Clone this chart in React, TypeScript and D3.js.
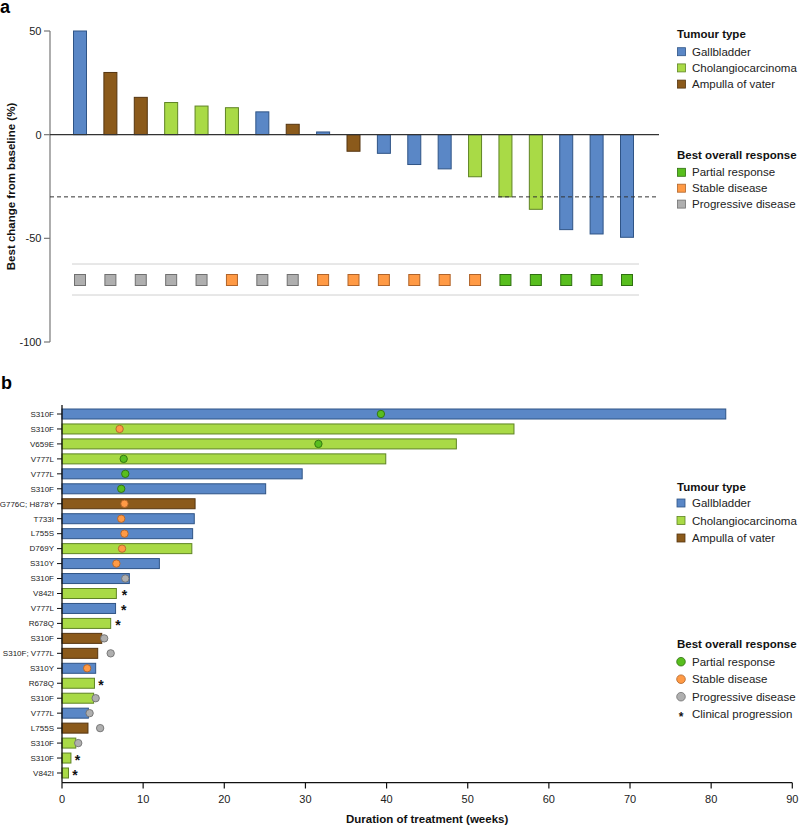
import React from "react";
import * as d3 from "d3";

// ---------- Panel a: waterfall ----------
const wfChange = [50, 30, 18, 15.5, 13.8, 13, 11, 5, 1.3, -8, -9, -14.4, -16.5, -20.3, -30, -36, -45.8, -47.9, -49.5];
const wfTumour = ["G", "A", "A", "C", "C", "C", "G", "A", "G", "A", "G", "G", "G", "C", "C", "C", "G", "G", "G"];
const wfResponse = ["PD", "PD", "PD", "PD", "PD", "SD", "PD", "PD", "SD", "SD", "SD", "SD", "SD", "SD", "PR", "PR", "PR", "PR", "PR"];
const wfTicks = [50, 0, -50, -100];
const wfThreshold = -30;

// ---------- Panel b: swimmer ----------
const swLabels = ["S310F", "S310F", "V659E", "V777L", "V777L", "S310F", "G776C; H878Y", "T733I", "L755S", "D769Y", "S310Y", "S310F", "V842I", "V777L", "R678Q", "S310F", "S310F; V777L", "S310Y", "R678Q", "S310F", "V777L", "L755S", "S310F", "S310F", "V842I"];
const swDuration = [81.8, 55.7, 48.6, 39.9, 29.6, 25.1, 16.4, 16.3, 16.1, 16.0, 12.0, 8.3, 6.7, 6.6, 6.0, 4.9, 4.4, 4.15, 4.0, 3.9, 3.25, 3.2, 1.7, 1.1, 0.8];
const swTumour = ["G", "C", "C", "C", "G", "G", "A", "G", "G", "C", "G", "G", "C", "G", "C", "A", "A", "G", "C", "C", "G", "A", "C", "C", "C"];
const swResponse = ["PR", "SD", "PR", "PR", "PR", "PR", "SD", "SD", "SD", "SD", "SD", "PD", "CP", "CP", "CP", "PD", "PD", "SD", "CP", "PD", "PD", "PD", "PD", "CP", "CP"];
const swResponseWeek = [39.3, 7.1, 31.6, 7.6, 7.8, 7.3, 7.7, 7.3, 7.7, 7.4, 6.7, 7.8, 7.7, 7.6, 6.9, 5.2, 6.0, 3.1, 4.8, 4.15, 3.4, 4.7, 2.0, 1.9, 1.6];
const swTicks = [0, 10, 20, 30, 40, 50, 60, 70, 80, 90];

const tumourKeys = ["G", "C", "A"];
const tumourNames = ["Gallbladder", "Cholangiocarcinoma", "Ampulla of vater"];
const tumourFill: Record<string, string> = { G: "#5A87C6", C: "#A9DA46", A: "#8B5A1B" };
const tumourStroke: Record<string, string> = { G: "#2F5486", C: "#5F8424", A: "#553510" };

const respKeys = ["PR", "SD", "PD"];
const respNames = ["Partial response", "Stable disease", "Progressive disease"];
const respFill: Record<string, string> = { PR: "#58BE1E", SD: "#FF9A45", PD: "#AFAFAF" };
const respStroke: Record<string, string> = { PR: "#2F7010", SD: "#B0642A", PD: "#707070" };

const FONT = "'Liberation Sans', Arial, Helvetica, sans-serif";

export default function App() {
  // panel a scales
  const ya = d3.scaleLinear().domain([-100, 50]).range([342, 31]);
  const xa = d3.scalePoint<number>().domain(d3.range(wfChange.length)).range([80, 627]);
  const barW = 13;
  const sqY = 280;
  const sqS = 11;

  // panel b scales
  const xb = d3.scaleLinear().domain([0, 90]).range([62, 792.3]);
  const yb = d3.scalePoint<number>().domain(d3.range(swLabels.length)).range([414, 773]);
  const rowH = 10;

  return (
    <svg width={799} height={826} style={{ position: "absolute", left: 0, top: 0, fontFamily: FONT }}>
      <rect width={799} height={826} fill="#fff" />
      {/* panel labels */}
      <text x={0} y={13} fontSize={18} fontWeight="bold" fill="#000">a</text>
      <text x={1} y={389} fontSize={18} fontWeight="bold" fill="#000">b</text>

      {/* ---------- Panel a ---------- */}
      <g>
        {/* y axis */}
        <line x1={50} x2={50} y1={ya(50)} y2={ya(-100)} stroke="#777" strokeWidth={1.2} />
        {wfTicks.map((t) => (
          <g key={t}>
            <line x1={44} x2={50} y1={ya(t)} y2={ya(t)} stroke="#777" strokeWidth={1.2} />
            <text x={41.5} y={ya(t)} dy="0.35em" textAnchor="end" fontSize={11} fill="#222">{t}</text>
          </g>
        ))}
        <text
          transform={`translate(14.5, ${(ya(50) + ya(-100)) / 2}) rotate(-90)`}
          textAnchor="middle"
          fontSize={11.5}
          fontWeight="bold"
          fill="#111"
        >
          Best change from baseline (%)
        </text>

        {/* bars */}
        {wfChange.map((v, i) => {
          const y0 = ya(0);
          const y1 = ya(v);
          return (
            <rect
              key={i}
              x={(xa(i) as number) - barW / 2}
              y={Math.min(y0, y1)}
              width={barW}
              height={Math.abs(y1 - y0)}
              fill={tumourFill[wfTumour[i]]}
              stroke={tumourStroke[wfTumour[i]]}
              strokeWidth={1}
            />
          );
        })}
        {/* zero and threshold lines */}
        <line x1={50} x2={659} y1={ya(0)} y2={ya(0)} stroke="#333" strokeWidth={1.1} />
        <line x1={50} x2={659} y1={ya(wfThreshold)} y2={ya(wfThreshold)} stroke="#333" strokeWidth={1} strokeDasharray="4,3" />

        {/* response strip */}
        <line x1={72} x2={639} y1={264} y2={264} stroke="#d0d0d0" strokeWidth={1} />
        <line x1={72} x2={639} y1={295} y2={295} stroke="#d0d0d0" strokeWidth={1} />
        {wfResponse.map((r, i) => (
          <rect
            key={i}
            x={(xa(i) as number) - sqS / 2}
            y={sqY - sqS / 2}
            width={sqS}
            height={sqS}
            fill={respFill[r]}
            stroke={respStroke[r]}
            strokeWidth={1}
          />
        ))}

        {/* legends */}
        <text x={677} y={34.3} dy="0.35em" fontSize={11.5} fontWeight="bold" fill="#111">Tumour type</text>
        {tumourKeys.map((k, i) => {
          const cy = 51.7 + i * 16.2;
          return (
            <g key={k}>
              <rect x={677.5} y={cy - 4} width={8} height={8} fill={tumourFill[k]} stroke={tumourStroke[k]} strokeWidth={0.8} />
              <text x={692} y={cy} dy="0.35em" fontSize={11.5} fill="#222">{tumourNames[i]}</text>
            </g>
          );
        })}
        <text x={677} y={155.3} dy="0.35em" fontSize={11.5} fontWeight="bold" fill="#111">Best overall response</text>
        {respKeys.map((k, i) => {
          const cy = 172.3 + i * 15.9;
          return (
            <g key={k}>
              <rect x={677.5} y={cy - 4} width={8} height={8} fill={respFill[k]} stroke={respStroke[k]} strokeWidth={0.8} />
              <text x={692} y={cy} dy="0.35em" fontSize={11.5} fill="#222">{respNames[i]}</text>
            </g>
          );
        })}
      </g>

      {/* ---------- Panel b ---------- */}
      <g>
        {/* bars */}
        {swDuration.map((d, i) => (
          <rect
            key={i}
            x={xb(0)}
            y={(yb(i) as number) - rowH / 2}
            width={xb(d) - xb(0)}
            height={rowH}
            fill={tumourFill[swTumour[i]]}
            stroke={tumourStroke[swTumour[i]]}
            strokeWidth={1}
          />
        ))}
        {/* response markers */}
        {swResponse.map((r, i) => {
          const cx = xb(swResponseWeek[i]);
          const cy = yb(i) as number;
          if (r === "CP") {
            return (
              <text key={i} x={cx} y={cy + 6.8} textAnchor="middle" fontSize={14} fontWeight="bold" fill="#111">*</text>
            );
          }
          return <circle key={i} cx={cx} cy={cy} r={3.7} fill={respFill[r]} stroke={respStroke[r]} strokeWidth={0.9} />;
        })}

        {/* y axis */}
        <line x1={62} x2={62} y1={405} y2={782.7} stroke="#111" strokeWidth={1.3} />
        {swLabels.map((l, i) => (
          <g key={i}>
            <line x1={57} x2={62} y1={yb(i) as number} y2={yb(i) as number} stroke="#111" strokeWidth={1} />
            <text x={54} y={yb(i) as number} dy="0.35em" textAnchor="end" fontSize={8} fill="#222">{l}</text>
          </g>
        ))}

        {/* x axis */}
        <line x1={xb(0)} x2={xb(90)} y1={782.7} y2={782.7} stroke="#111" strokeWidth={1.3} />
        {swTicks.map((t) => (
          <g key={t}>
            <line x1={xb(t)} x2={xb(t)} y1={782.7} y2={788.5} stroke="#111" strokeWidth={1.2} />
            <text x={xb(t)} y={798.7} dy="0.35em" textAnchor="middle" fontSize={11} fill="#222">{t}</text>
          </g>
        ))}
        <text x={(xb(0) + xb(90)) / 2} y={823.3} textAnchor="middle" fontSize={11.5} fontWeight="bold" fill="#111">
          Duration of treatment (weeks)
        </text>

        {/* legends */}
        <text x={677} y={486.7} dy="0.35em" fontSize={11.5} fontWeight="bold" fill="#111">Tumour type</text>
        {tumourKeys.map((k, i) => {
          const cy = 503 + i * 17.5;
          return (
            <g key={k}>
              <rect x={677} y={cy - 4} width={8} height={8} fill={tumourFill[k]} stroke={tumourStroke[k]} strokeWidth={0.8} />
              <text x={692} y={cy} dy="0.35em" fontSize={11.5} fill="#222">{tumourNames[i]}</text>
            </g>
          );
        })}
        <text x={677} y={644} dy="0.35em" fontSize={11.5} fontWeight="bold" fill="#111">Best overall response</text>
        {respKeys.map((k, i) => {
          const cy = 661.7 + i * 17.5;
          return (
            <g key={k}>
              <circle cx={681} cy={cy} r={4.3} fill={respFill[k]} stroke={respStroke[k]} strokeWidth={0.8} />
              <text x={692} y={cy} dy="0.35em" fontSize={11.5} fill="#222">{respNames[i]}</text>
            </g>
          );
        })}
        <text x={681} y={714.3 + 6.5} textAnchor="middle" fontSize={12} fontWeight="bold" fill="#111">*</text>
        <text x={692} y={714.3} dy="0.35em" fontSize={11.5} fill="#222">Clinical progression</text>
      </g>
    </svg>
  );
}
